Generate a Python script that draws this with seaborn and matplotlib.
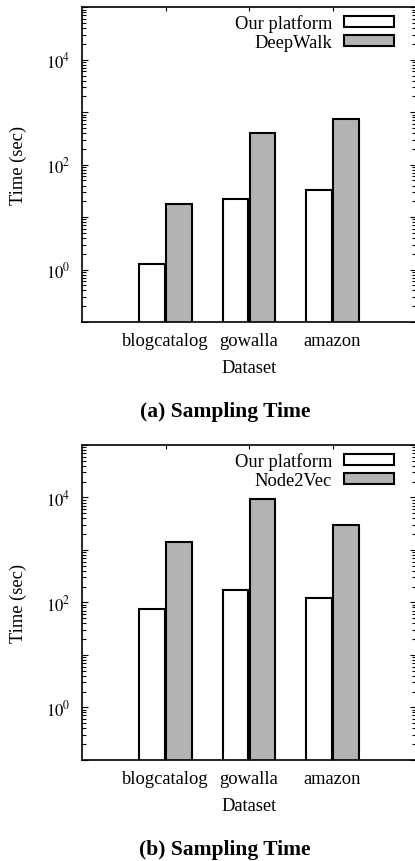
import matplotlib
matplotlib.use('Agg')
import matplotlib.pyplot as plt
import seaborn as sns
import pandas as pd
from matplotlib.ticker import LogLocator, FuncFormatter, NullFormatter

# ---- data ----
datasets = ['blogcatalog', 'gowalla', 'amazon']
our_a = [1.27, 22, 33]
deepwalk_a = [17.5, 405, 740]
our_b = [74, 169, 121]
node2vec_b = [1400, 9200, 3050]
methods_a = ['Our platform', 'DeepWalk']
methods_b = ['Our platform', 'Node2Vec']
captions = ['(a) Sampling Time', '(b) Sampling Time']
xlabel_text = 'Dataset'
ylabel_text = 'Time (sec)'

sns.set_theme(style='ticks')
plt.rcParams['font.family'] = ['Liberation Serif', 'DejaVu Serif']
plt.rcParams['mathtext.fontset'] = 'stix'
for key in ['text.color', 'axes.labelcolor', 'xtick.color', 'ytick.color',
            'xtick.labelcolor', 'ytick.labelcolor', 'axes.edgecolor']:
    plt.rcParams[key] = 'black'

W, H = 415, 862
fig = plt.figure(figsize=(W / 100, H / 100), dpi=100)


def px_axes(left, right, top, bottom):
    return [left / W, 1 - bottom / H, (right - left) / W, (bottom - top) / H]


def fmt(v, pos):
    import math
    if v <= 0:
        return ''
    e = int(round(math.log10(v)))
    if e % 2 == 0 and e >= 0:
        return r'$10^{%d}$' % e
    return ''


panels = [
    (our_a, deepwalk_a, methods_a, captions[0], (8.3, 323.0), 416.7),
    (our_b, node2vec_b, methods_b, captions[1], (446.0, 760.8), 855.0),
]

for ours, other, methods, cap, (top, bottom), cap_y in panels:
    ax = fig.add_axes(px_axes(82, 416, top, bottom))
    df = pd.DataFrame({
        'Dataset': datasets * 2,
        'Time': ours + other,
        'Method': [methods[0]] * len(datasets) + [methods[1]] * len(datasets),
    })
    ax.set_yscale('log')
    sns.barplot(data=df, x='Dataset', y='Time', hue='Method',
                palette=['white', '#b3b3b3'], saturation=1,
                width=0.64, gap=0.05, edgecolor='black', linewidth=1.5,
                errorbar=None, ax=ax)
    ax.set_xlim(-1, 3)
    ax.set_ylim(0.1, 1e5)
    ax.yaxis.set_major_locator(LogLocator(base=10, numticks=20))
    ax.yaxis.set_minor_locator(LogLocator(base=10, subs=range(2, 10), numticks=20))
    ax.yaxis.set_major_formatter(FuncFormatter(fmt))
    ax.yaxis.set_minor_formatter(NullFormatter())

    ax.tick_params(axis='both', which='both', direction='in',
                   top=True, right=True, color='black', labelcolor='black', width=0.8)
    ax.tick_params(axis='y', which='major', length=4.3, pad=8.6, labelsize=12)
    ax.tick_params(axis='y', which='minor', length=2.8)
    ax.tick_params(axis='x', which='major', length=3, pad=7, labelsize=13.3)
    for s in ax.spines.values():
        s.set_linewidth(1.2)
        s.set_color('black')

    ax.set_xlabel(xlabel_text, fontsize=13.3, color='black')
    ax.set_ylabel(ylabel_text, fontsize=13.3, color='black')
    ax.xaxis.set_label_coords(0.5, -0.118)
    ax.yaxis.set_label_coords(-0.165, 0.5)

    handles, labels = ax.get_legend_handles_labels()
    for h in handles:
        h.set_edgecolor('black')
        h.set_linewidth(1.5)
    leg = ax.legend(handles, labels, loc='upper right', bbox_to_anchor=(0.934, 0.977),
                    frameon=False, markerfirst=False, fontsize=13.3,
                    handlelength=2.7, handleheight=0.54, handletextpad=0.65,
                    borderpad=0, borderaxespad=0, labelspacing=0.1)
    for t in leg.get_texts():
        t.set_color('black')

    fig.text(224.8 / W, 1 - cap_y / H, cap, ha='center', va='baseline',
             fontweight='bold', fontsize=15.5, color='black')

fig.savefig('out.png', dpi=100)
